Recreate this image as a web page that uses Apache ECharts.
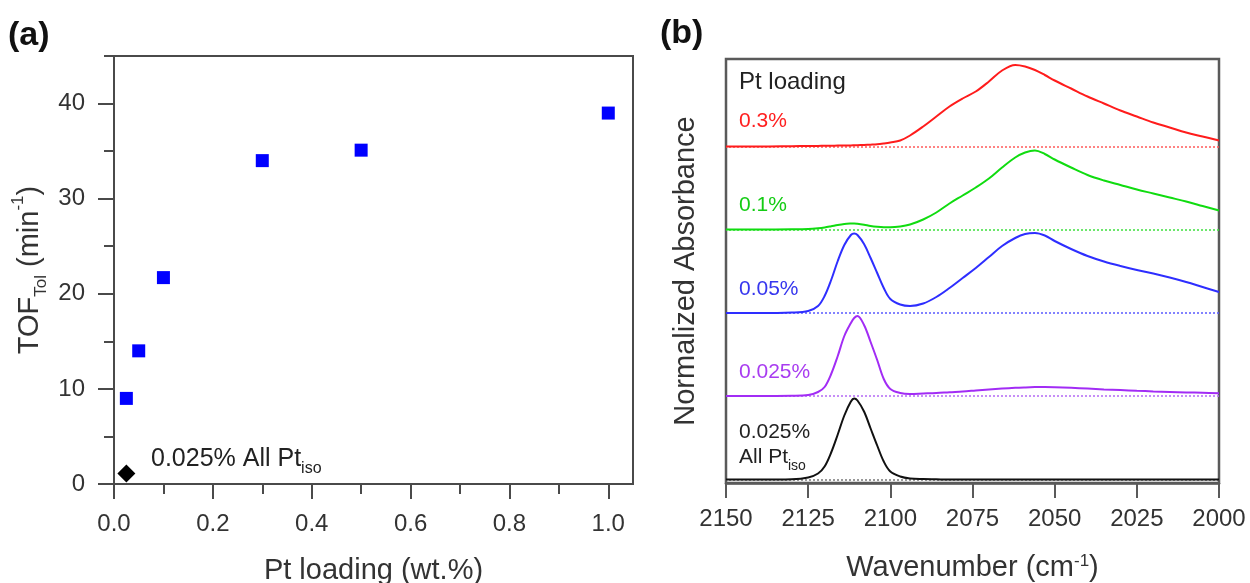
<!DOCTYPE html>
<html><head><meta charset="utf-8">
<script src="https://cdn.jsdelivr.net/npm/echarts@6/dist/echarts.min.js"></script>
<style>html,body{margin:0;padding:0;background:#fff}#c{width:1250px;height:583px}</style>
</head><body><div id="c"></div>
<script>
// ---------- Panel (a): TOF vs Pt loading ----------
const ptLoading = [0.025, 0.05, 0.1, 0.3, 0.5, 1.0];
const tofTol    = [9.0, 14.0, 21.7, 34.0, 35.1, 39.0];
const allPtIsoLoading = [0.025];
const allPtIsoTof     = [1.1];
const xTicksA  = [0, 0.2, 0.4, 0.6, 0.8, 1.0];
const xMinorA  = [0.1, 0.3, 0.5, 0.7, 0.9];
const yTicksA  = [0, 10, 20, 30, 40];
const yMinorA  = [5, 15, 25, 35, 45];

// ---------- Panel (b): IR spectra (offset, normalized) ----------
const wavenumbers = [2150,2140,2130,2125,2122,2120,2118,2116,2114,2112,2111,2110,2108,2106,2104,2102,2100,2097,2094,2090,
                     2086,2082,2078,2074,2070,2066,2062,2059,2056,2053,2050,2045,2040,2035,2030,2025,2020,2015,2010,2005,2000];
const absAllPtIso = [0,0,0.3,2,6,13,27,45,64,78,81,79,68,51,34,18,8,3,1,0.4,
                     0.2,0,0,0,0,0,0,0,0,0,0,0,0,0,0,0,0,0,0,0,0];
const abs0025 = [0,0,0.3,1,4,9,22,40,60,73,78,80,71,54,36,17,7,3,2,2.5,
                 3,3.8,4.5,5.5,6.5,7.4,8.2,8.6,8.9,9,8.8,8.2,7.4,6.6,5.9,5.2,4.6,4.1,3.6,3.2,2.8];
const abs005  = [0,0,0.5,2,7,17,33,52,68,78,79.5,78,69,55,40,25,14,8.5,7,9.5,
                 16,25,35,45,56,67,75,79,80,77.5,72,64,57,51.5,47,43,39.5,35.5,31,26,21];
const abs01   = [0,0,0.2,0.5,1.2,2,3.2,4.5,5.5,6,6.1,5.8,4.8,3.6,2.8,2.3,2.2,3,5,10,
                 17,26,34,42,51,62,72,77,79,75.5,70,62,54.5,49,44.5,40,36,32,28,23.5,19];
const abs03   = [0,0,0.3,0.5,0.6,0.7,0.8,0.9,1,1.1,1.2,1.3,1.5,1.8,2.2,3,4,6,11,20,
                 30,40,48,55,65,76,81.5,80,76.5,71.5,66,58,50,43,36,30,24,19,14,10,6];
const curveNames   = ['0.025% All Pt_iso', '0.025%', '0.05%', '0.1%', '0.3%'];
const curveOffsets = [3.5, 87, 170, 253.5, 336.5];
const xTicksB = [2150, 2125, 2100, 2075, 2050, 2025, 2000];

const FONT = 'Liberation Sans, Arial, Helvetica, sans-serif';
const curves = [absAllPtIso, abs0025, abs005, abs01, abs03];
const lineColors = ['#111111', '#a22cf5', '#2e2eff', '#10dc10', '#ff1c1c'];
const dotColors  = ['#777777', '#b46af5', '#5a5aff', '#3ee03e', '#ff5a5a'];

const chart = echarts.init(document.getElementById('c'), null, {renderer: 'canvas'});
const axisCol = '#4a4a4a';

const lineSeries = curves.map((vals, k) => ({
  type: 'line', name: curveNames[k], xAxisIndex: 2, yAxisIndex: 2,
  data: wavenumbers.map((w, i) => [w, curveOffsets[k] + vals[i]]),
  smooth: 0.35, showSymbol: false, symbol: 'none', z: 5,
  lineStyle: {color: lineColors[k], width: 2},
  markLine: {silent: true, symbol: 'none', label: {show: false},
    lineStyle: {color: dotColors[k], type: [2, 2], width: 1.5},
    data: [{yAxis: curveOffsets[k]}]},
}));

const option = {
  animation: false,
  textStyle: {fontFamily: FONT},
  grid: [
    {left: 114, top: 56, width: 519, height: 428, outerBoundsMode: 'none', containLabel: false,
     show: true, borderColor: axisCol, borderWidth: 2, backgroundColor: 'transparent'},
    {left: 114, top: 56, width: 519, height: 428, outerBoundsMode: 'none', containLabel: false, show: false},
    {left: 726, top: 59, width: 493, height: 424, outerBoundsMode: 'none', containLabel: false,
     show: true, borderColor: '#5a5a5a', borderWidth: 2.5, backgroundColor: 'transparent'}
  ],
  xAxis: [
    {gridIndex: 0, type: 'value', min: 0, max: 1.05, interval: 0.2,
     axisLine: {show: true, lineStyle: {color: axisCol, width: 2}},
     axisTick: {show: true, length: 15, customValues: xTicksA, lineStyle: {color: axisCol, width: 2}},
     axisLabel: {customValues: xTicksA, formatter: v => v.toFixed(1), fontSize: 24, color: '#333', margin: 28, fontFamily: FONT},
     splitLine: {show: false},
     name: 'Pt loading (wt.%)', nameLocation: 'middle', nameGap: 72,
     nameTextStyle: {fontSize: 29, color: '#333', fontFamily: FONT}},
    {gridIndex: 1, type: 'value', min: 0, max: 1.05, interval: 0.1,
     axisLine: {show: false},
     axisTick: {show: true, length: 10, customValues: xMinorA, lineStyle: {color: axisCol, width: 2}},
     axisLabel: {show: false}, splitLine: {show: false}},
    {gridIndex: 2, type: 'value', min: 2000, max: 2150, interval: 25, inverse: true,
     axisLine: {show: true, lineStyle: {color: '#5a5a5a', width: 2.5}},
     axisTick: {show: true, length: 15, customValues: xTicksB, lineStyle: {color: '#5a5a5a', width: 2}},
     axisLabel: {customValues: xTicksB, formatter: v => String(v), fontSize: 24, color: '#333', margin: 24, fontFamily: FONT},
     splitLine: {show: false},
     name: 'Wavenumber (cm{sup|-1})', nameLocation: 'middle', nameGap: 70,
     nameTextStyle: {fontSize: 29, color: '#333', fontFamily: FONT,
       rich: {sup: {fontSize: 17, verticalAlign: 'top', color: '#333', fontFamily: FONT}}}}
  ],
  yAxis: [
    {gridIndex: 0, type: 'value', min: 0, max: 45, interval: 10,
     axisLine: {show: true, lineStyle: {color: axisCol, width: 2}},
     axisTick: {show: true, length: 16, customValues: yTicksA, lineStyle: {color: axisCol, width: 2}},
     axisLabel: {customValues: yTicksA, fontSize: 24, color: '#333', margin: 29, fontFamily: FONT},
     splitLine: {show: false},
     name: 'TOF{sub|Tol} (min{sup|-1})', nameLocation: 'middle', nameGap: 64, nameRotate: 90,
     nameTextStyle: {fontSize: 29, color: '#333', fontFamily: FONT, lineHeight: 36,
       rich: {sub: {fontSize: 17, verticalAlign: 'bottom', lineHeight: 40, color: '#333', fontFamily: FONT},
              sup: {fontSize: 17, verticalAlign: 'top', color: '#333', fontFamily: FONT}}}},
    {gridIndex: 1, type: 'value', min: 0, max: 45, interval: 5,
     axisLine: {show: false},
     axisTick: {show: true, length: 10, customValues: yMinorA, lineStyle: {color: axisCol, width: 2}},
     axisLabel: {show: false}, splitLine: {show: false}},
    {gridIndex: 2, type: 'value', min: 0, max: 424,
     axisLine: {show: false}, axisTick: {show: false}, axisLabel: {show: false}, splitLine: {show: false},
     name: 'Normalized Absorbance', nameLocation: 'middle', nameGap: 26, nameRotate: 90,
     nameTextStyle: {fontSize: 29, color: '#333', fontFamily: FONT}}
  ],
  series: [
    {type: 'scatter', xAxisIndex: 0, yAxisIndex: 0, symbol: 'rect', symbolSize: 13, z: 6,
     itemStyle: {color: '#0000ff', opacity: 1},
     data: ptLoading.map((x, i) => [x, tofTol[i]])},
    {type: 'scatter', xAxisIndex: 0, yAxisIndex: 0, symbol: 'diamond', symbolSize: 18, z: 6,
     itemStyle: {color: '#000000', opacity: 1},
     data: allPtIsoLoading.map((x, i) => [x, allPtIsoTof[i]])},
    ...lineSeries
  ],
  graphic: [
    {type: 'text', left: 8, top: 19, style: {text: '(a)', font: 'bold 34px ' + FONT, fill: '#111'}},
    {type: 'text', left: 660, top: 17, style: {text: '(b)', font: 'bold 34px ' + FONT, fill: '#111'}},
    {type: 'text', left: 151, top: 447, style: {text: '0.025% All Pt{sub|iso}', font: '25px ' + FONT, fill: '#222',
      rich: {sub: {fontSize: 16, verticalAlign: 'bottom', lineHeight: 35, fill: '#222', fontFamily: FONT}}}},
    {type: 'text', left: 739, top: 70, style: {text: 'Pt loading', font: '24px ' + FONT, fill: '#222'}},
    {type: 'text', left: 739, top: 111, style: {text: '0.3%', font: '21px ' + FONT, fill: '#ff2020'}},
    {type: 'text', left: 739, top: 195, style: {text: '0.1%', font: '21px ' + FONT, fill: '#14cc14'}},
    {type: 'text', left: 739, top: 279, style: {text: '0.05%', font: '21px ' + FONT, fill: '#3636ee'}},
    {type: 'text', left: 739, top: 362, style: {text: '0.025%', font: '21px ' + FONT, fill: '#a83cf0'}},
    {type: 'text', left: 739, top: 422, style: {text: '0.025%', font: '21px ' + FONT, fill: '#222'}},
    {type: 'text', left: 739, top: 447, style: {text: 'All Pt{sub|iso}', font: '21px ' + FONT, fill: '#222',
      rich: {sub: {fontSize: 14, verticalAlign: 'bottom', lineHeight: 32, fill: '#222', fontFamily: FONT}}}}
  ]
};
chart.setOption(option);
</script>
</body></html>
